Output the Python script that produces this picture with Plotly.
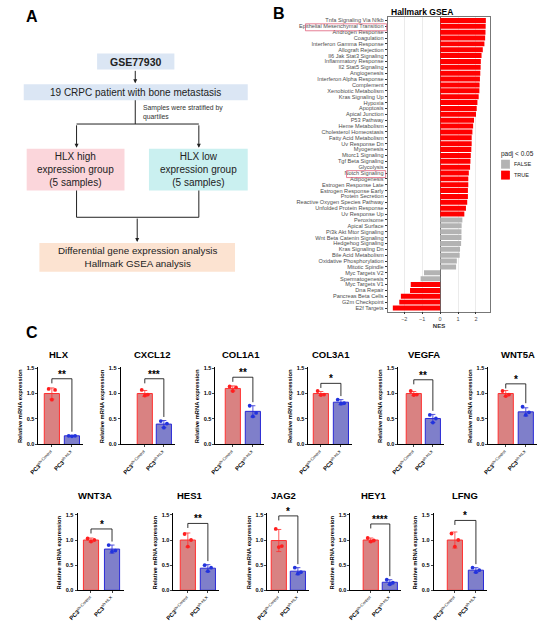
import plotly.graph_objects as go

W, H = 550, 629
FONT = "Liberation Sans, Arial, sans-serif"


def fx(px):
    return px / W


def fy(py):
    return 1 - py / H


# ---------------- Panel B : Hallmark GSEA ----------------
pathways = [
    "Tnfa Signaling Via Nfkb", "Epithelial Mesenchymal Transition", "Androgen Response",
    "Coagulation", "Interferon Gamma Response", "Allograft Rejection",
    "Il6 Jak Stat3 Signaling", "Inflammatory Response", "Il2 Stat5 Signaling",
    "Angiogenesis", "Interferon Alpha Response", "Complement", "Xenobiotic Metabolism",
    "Kras Signaling Up", "Hypoxia", "Apoptosis", "Apical Junction", "P53 Pathway",
    "Heme Metabolism", "Cholesterol Homeostasis", "Fatty Acid Metabolism",
    "Uv Response Dn", "Myogenesis", "Mtorc1 Signaling", "Tgf Beta Signaling",
    "Glycolysis", "Notch Signaling", "Adipogenesis", "Estrogen Response Late",
    "Estrogen Response Early", "Protein Secretion", "Reactive Oxygen Species Pathway",
    "Unfolded Protein Response", "Uv Response Up", "Peroxisome", "Apical Surface",
    "Pi3k Akt Mtor Signaling", "Wnt Beta Catenin Signaling", "Hedgehog Signaling",
    "Kras Signaling Dn", "Bile Acid Metabolism", "Oxidative Phosphorylation",
    "Mitotic Spindle", "Myc Targets V2", "Spermatogenesis", "Myc Targets V1",
    "Dna Repair", "Pancreas Beta Cells", "G2m Checkpoint", "E2f Targets",
]
nes = [
    2.55, 2.54, 2.53, 2.51, 2.47, 2.38, 2.31, 2.27, 2.26, 2.24,
    2.22, 2.20, 2.19, 2.15, 2.08, 2.04, 2.00, 1.89, 1.84, 1.80,
    1.76, 1.76, 1.74, 1.71, 1.69, 1.67, 1.60, 1.57, 1.57, 1.55,
    1.55, 1.51, 1.44, 1.35, 1.24, 1.20, 1.19, 1.19, 1.17, 1.11,
    1.09, 0.93, 0.89, -0.90, -1.09, -1.64, -1.68, -2.19, -2.28, -2.64,
]
padj_sig = [
    "TRUE", "TRUE", "TRUE", "TRUE", "TRUE", "TRUE", "TRUE", "TRUE", "TRUE", "TRUE",
    "TRUE", "TRUE", "TRUE", "TRUE", "TRUE", "TRUE", "TRUE", "TRUE", "TRUE", "TRUE",
    "TRUE", "TRUE", "TRUE", "TRUE", "TRUE", "TRUE", "TRUE", "TRUE", "TRUE", "TRUE",
    "TRUE", "TRUE", "TRUE", "TRUE", "FALSE", "FALSE", "FALSE", "FALSE", "FALSE", "FALSE",
    "FALSE", "FALSE", "FALSE", "FALSE", "FALSE", "TRUE", "TRUE", "TRUE", "TRUE", "TRUE",
]
highlighted = ["Epithelial Mesenchymal Transition", "Notch Signaling"]
nes_ticks = [-2, -1, 0, 1, 2]

# ---------------- Panel C : qPCR ----------------
genes = ["HLX", "CXCL12", "COL1A1", "COL3A1", "VEGFA", "WNT5A",
         "WNT3A", "HES1", "JAG2", "HEY1", "LFNG"]
groups = ["<b>PC3</b><sup>sh-Control</sup>", "<b>PC3</b><sup>sh-HLX</sup>"]
ctrl_mean = [1.00, 1.00, 1.10, 1.00, 1.00, 1.00, 1.00, 1.00, 0.99, 1.00, 1.00]
ctrl_sd = [0.11, 0.06, 0.05, 0.04, 0.04, 0.06, 0.04, 0.14, 0.22, 0.04, 0.16]
ctrl_pts = [[1.09, 1.07, 0.88], [1.07, 0.98, 0.96], [1.14, 1.12, 1.05],
            [1.05, 0.98, 0.97], [1.05, 0.98, 0.97], [1.05, 0.98, 0.95],
            [1.03, 1.00, 0.97], [1.12, 1.00, 0.87], [1.22, 0.88, 0.86],
            [1.04, 0.99, 0.97], [1.13, 1.00, 0.87]]
shhlx_mean = [0.17, 0.40, 0.65, 0.83, 0.51, 0.64, 0.82, 0.44, 0.38, 0.16, 0.40]
shhlx_sd = [0.01, 0.07, 0.11, 0.05, 0.08, 0.08, 0.08, 0.07, 0.07, 0.05, 0.05]
shhlx_pts = [[0.17, 0.17, 0.16], [0.46, 0.41, 0.33], [0.76, 0.62, 0.55],
             [0.88, 0.81, 0.80], [0.58, 0.51, 0.43], [0.74, 0.63, 0.58],
             [0.90, 0.79, 0.77], [0.50, 0.45, 0.38], [0.45, 0.36, 0.33],
             [0.21, 0.15, 0.12], [0.45, 0.40, 0.36]]
stars = ["**", "***", "**", "*", "**", "*", "*", "**", "*", "****", "*"]
bracket_y = [1.29, 1.29, 1.32, 1.20, 1.27, 1.19, 1.22, 1.33, 1.48, 1.32, 1.39]
y_ticks = [0, 0.5, 1.0, 1.5]

# layout of the small panels (pixels)
axis_x = [27, 111, 208, 303, 395, 487, 67, 165, 261, 346, 431]
bar1_left = [33, 128, 218, 308, 403, 497, 73, 172, 265, 359, 445]
bar2_right = [69, 163, 254, 344, 438, 533, 110, 208, 300, 394, 482]
title_x = [48, 143, 234, 326, 421, 517, 85, 182, 278, 370, 463]
panel_row = [0, 0, 0, 0, 0, 0, 1, 1, 1, 1, 1]
row_zero = [446, 593]
row_top = [369, 517]
row_title = [355, 497]
BAR_PX = 15.5
Y_MAX = 1.53
DOT_DX = [-0.16, 0.16, 0.0]

fig = go.Figure()

# ---- panel B bars
for flag, color in [("FALSE", "#b3b3b3"), ("TRUE", "#ff0000")]:
    ys = [p for p, s in zip(pathways, padj_sig) if s == flag]
    xs = [v for v, s in zip(nes, padj_sig) if s == flag]
    fig.add_trace(go.Bar(x=xs, y=ys, orientation="h", marker_color=color,
                         marker_line_width=0, width=0.85, name=flag,
                         showlegend=False, xaxis="x", yaxis="y"))

layout = dict(
    width=W, height=H, margin=dict(l=0, r=0, t=0, b=0),
    paper_bgcolor="white", plot_bgcolor="white", barmode="overlay",
    font=dict(family=FONT, color="black"), showlegend=False,
    xaxis=dict(domain=[fx(384), fx(489)], anchor="y", range=[-2.93, 2.8],
               tickvals=nes_ticks, ticks="outside", ticklen=2, tickcolor="#333",
               tickfont=dict(size=5.5, color="#4d4d4d"),
               showgrid=True, gridcolor="#ebebeb", gridwidth=0.6,
               zeroline=True, zerolinecolor="#666", zerolinewidth=0.8,
               showline=True, mirror=True, linecolor="#777", linewidth=0.8,
               title=dict(text="<b>NES</b>", font=dict(size=6, color="#333"), standoff=2)),
    yaxis=dict(domain=[fy(312), fy(15)], anchor="x", type="category",
               categoryorder="array", categoryarray=pathways, tickvals=pathways,
               range=[49.6, -0.6], ticks="outside", ticklen=2, tickcolor="#333",
               tickfont=dict(size=5.6, color="#4d4d4d"), showgrid=False,
               showline=True, mirror=True, linecolor="#777", linewidth=0.8),
)

shapes = []
annotations = []


def label(x, y, text, size, color="black", xanchor="center", yanchor="middle", **kw):
    d = dict(x=fx(x), y=fy(y), xref="paper", yref="paper", text=text, showarrow=False,
             xanchor=xanchor, yanchor=yanchor, font=dict(size=size, color=color))
    d.update(kw)
    annotations.append(d)


# ---- panel C small bar charts
for i, gene in enumerate(genes):
    n = i + 2
    xa, ya = "x%d" % n, "y%d" % n
    r = panel_row[i]
    c1 = bar1_left[i] + BAR_PX / 2
    c2 = bar2_right[i] - BAR_PX / 2
    unit = c2 - c1
    x_end = bar2_right[i] + 4
    xr = [(axis_x[i] - c1) / unit, 1 + (x_end - c2) / unit]
    ppu = (row_zero[r] - row_top[r]) / 1.5
    top_px = row_zero[r] - Y_MAX * ppu

    fig.add_trace(go.Bar(x=[0], y=[ctrl_mean[i]], width=BAR_PX / unit,
                         marker=dict(color="#d98282", line=dict(color="#ff3030", width=1)),
                         error_y=dict(type="data", array=[ctrl_sd[i]], color="#ff3030",
                                      thickness=0.8, width=2.5),
                         xaxis=xa, yaxis=ya, showlegend=False))
    fig.add_trace(go.Bar(x=[1], y=[shhlx_mean[i]], width=BAR_PX / unit,
                         marker=dict(color="#7f7fca", line=dict(color="#2a2ad6", width=1)),
                         error_y=dict(type="data", array=[shhlx_sd[i]], color="#2a2ad6",
                                      thickness=0.8, width=2.5),
                         xaxis=xa, yaxis=ya, showlegend=False))
    fig.add_trace(go.Scatter(x=[0 + d for d in DOT_DX], y=ctrl_pts[i], mode="markers",
                             marker=dict(size=3.8, color="#ff1f1f"),
                             xaxis=xa, yaxis=ya, showlegend=False, cliponaxis=False))
    fig.add_trace(go.Scatter(x=[1 + d for d in DOT_DX], y=shhlx_pts[i], mode="markers",
                             marker=dict(size=3.8, color="#2233dd"),
                             xaxis=xa, yaxis=ya, showlegend=False, cliponaxis=False))
    # significance bracket
    b = bracket_y[i]
    right_end = max(shhlx_pts[i] + [shhlx_mean[i] + shhlx_sd[i]]) + 0.07
    fig.add_trace(go.Scatter(x=[0, 0, 1, 1], y=[b - 0.09, b, b, right_end],
                             mode="lines", line=dict(color="black", width=0.8),
                             xaxis=xa, yaxis=ya, showlegend=False))
    annotations.append(dict(x=0.5, y=b, xref=xa, yref=ya, text="<b>%s</b>" % stars[i],
                            showarrow=False, xanchor="center", yanchor="bottom",
                            yshift=-3, font=dict(size=10)))

    layout["xaxis%d" % n] = dict(
        domain=[fx(axis_x[i]), fx(x_end)], anchor=ya, range=xr,
        tickvals=[0, 1], ticktext=groups, tickangle=-45, ticks="outside",
        ticklen=2, tickwidth=0.8, tickfont=dict(size=5.8),
        showline=True, linecolor="black", linewidth=1, showgrid=False, zeroline=False)
    layout["yaxis%d" % n] = dict(
        domain=[fy(row_zero[r]), fy(top_px)], anchor=xa, range=[0, Y_MAX],
        tickvals=y_ticks, ticktext=["<b>%.1f</b>" % t for t in y_ticks],
        ticks="outside", ticklen=2, tickwidth=0.8, tickfont=dict(size=5.5),
        showline=True, linecolor="black", linewidth=1, showgrid=False, zeroline=False)

    label(title_x[i], row_title[r], "<b>%s</b>" % gene, 9.5)
    label(axis_x[i] - 19, row_zero[r] - 0.75 * ppu, "<b>Relative mRNA expression</b>",
          5.8, textangle=-90)

# ---- panel A flowchart
boxes = [
    ((87, 52, 166, 68), "#dbe6f4", "<b>GSE77930</b>", 10.5),
    ((12, 83, 241, 99), "#dbe6f4", "19 CRPC patient with bone metastasis", 10),
    ((15, 148, 115, 190), "#fbd6db", "HLX high<br>expression group<br>(5 samples)", 10),
    ((140, 148, 241, 190), "#caf0f0", "HLX low<br>expression group<br>(5 samples)", 10),
    ((28, 243, 228, 272), "#fce3d1", "Differential gene expression analysis<br>Hallmark GSEA analysis", 9.8),
]
for (x0, y0, x1, y1), fill, text, size in boxes:
    shapes.append(dict(type="rect", xref="paper", yref="paper", x0=fx(x0), x1=fx(x1),
                       y0=fy(y1), y1=fy(y0), fillcolor=fill, line=dict(width=0),
                       layer="below"))
    label((x0 + x1) / 2, (y0 + y1) / 2, text, size, color="#222")

flow_lines = [
    (126, 99, 126, 123), (66, 123, 191, 123),
    (66, 190, 66, 217), (191, 190, 191, 217), (66, 217, 191, 217),
]
for x0, y0, x1, y1 in flow_lines:
    shapes.append(dict(type="line", xref="paper", yref="paper", x0=fx(x0), x1=fx(x1),
                       y0=fy(y0), y1=fy(y1), line=dict(color="#222", width=1)))

flow_arrows = [(126, 68, 82), (66, 123, 147), (191, 123, 147), (128, 217, 242)]
for x, y_from, y_to in flow_arrows:
    annotations.append(dict(x=fx(x), y=fy(y_to), xref="paper", yref="paper",
                            ax=0, ay=-(y_to - y_from), axref="pixel", ayref="pixel",
                            text="", showarrow=True, arrowhead=2, arrowsize=0.8,
                            arrowwidth=1, arrowcolor="#222"))

label(132, 111, "Samples were stratified by<br>quartiles", 6.8, color="#333",
      xanchor="left", align="left")

# ---- panel letters
for letter, x, y in [("A", 20, 15), ("B", 273, 12), ("C", 20, 333)]:
    label(x, y, "<b>%s</b>" % letter, 16)

# ---- panel B title, highlight boxes and legend
label(385, 10, "<b>Hallmark GSEA</b>", 8.5, xanchor="left")
highlight_px = {"Epithelial Mesenchymal Transition": (300, 22, 383, 29),
                "Notch Signaling": (342, 170, 382, 177)}
for name in highlighted:
    x0, y0, x1, y1 = highlight_px[name]
    shapes.append(dict(type="rect", xref="paper", yref="paper", x0=fx(x0), x1=fx(x1),
                       y0=fy(y1), y1=fy(y0), line=dict(color="#e0607a", width=0.8)))

label(498, 153, "padj < 0.05", 6.5, color="#222", xanchor="left")
for flag, color, y in [("FALSE", "#b3b3b3", 159), ("TRUE", "#ff0000", 170)]:
    shapes.append(dict(type="rect", xref="paper", yref="paper", x0=fx(500), x1=fx(509),
                       y0=fy(y + 9), y1=fy(y), fillcolor=color, line=dict(width=0)))
    label(511, y + 4.5, flag, 5.5, color="#222", xanchor="left")

layout["shapes"] = shapes
layout["annotations"] = annotations
fig.update_layout(**layout)

fig.write_html("out.html", config={"displayModeBar": False},
               post_script="document.body.style.margin='0';document.body.style.overflow='hidden';")
